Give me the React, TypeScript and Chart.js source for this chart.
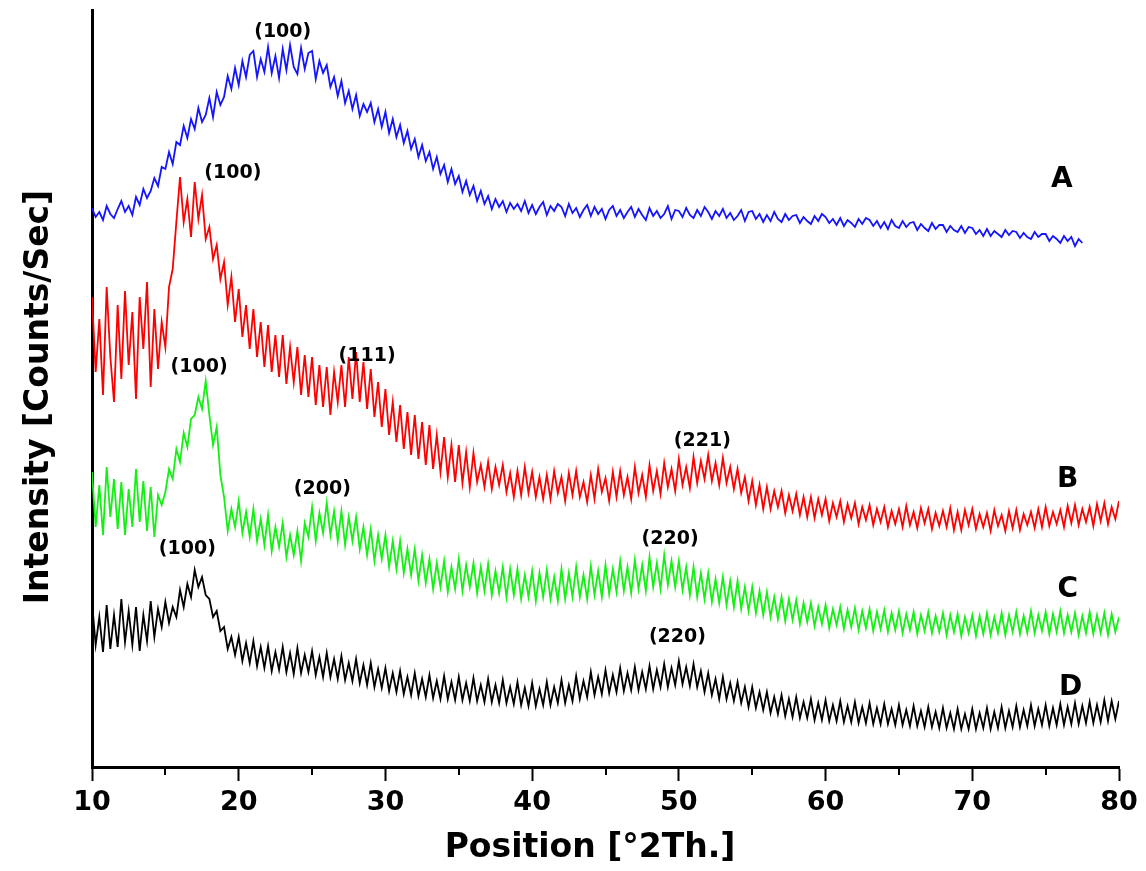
import React, { useEffect, useRef } from 'react';
import { Chart, registerables } from 'chart.js';

Chart.register(...registerables);

// XRD scan: 2θ from 10° in steps of 0.25°
const SCAN_START = 10;
const SCAN_STEP = 0.25;

// Sample A (blue), 10° .. 77.5°
const sampleA = [
  559, 550, 555, 547, 561, 553, 549, 558, 566, 555, 561, 552, 570, 562, 578, 569, 576, 589, 581, 600,
  598, 615, 603, 625, 622, 641, 629, 648, 638, 659, 645, 652, 669, 650, 675, 662, 670, 691, 678, 699,
  682, 706, 690, 712, 716, 690, 708, 695, 720, 694, 711, 689, 718, 697, 722, 700, 693, 719, 698, 714,
  716, 688, 706, 694, 702, 680, 690, 671, 686, 664, 676, 658, 672, 651, 663, 655, 664, 645, 658, 640,
  655, 634, 648, 630, 642, 624, 636, 618, 628, 610, 622, 606, 615, 598, 610, 593, 602, 585, 598, 583,
  591, 575, 586, 572, 581, 566, 576, 563, 571, 558, 568, 560, 566, 555, 564, 558, 563, 556, 566, 554,
  562, 553, 560, 565, 552, 561, 556, 563, 560, 551, 563, 554, 559, 550, 557, 562, 551, 560, 553, 558,
  548, 557, 561, 551, 557, 549, 555, 560, 550, 558, 552, 547, 559, 551, 556, 549, 553, 561, 548, 557,
  556, 550, 559, 552, 549, 557, 551, 560, 555, 548, 556, 551, 558, 549, 554, 547, 551, 557, 546, 555,
  556, 548, 553, 545, 552, 546, 555, 548, 545, 553, 547, 551, 552, 544, 550, 546, 543, 551, 546, 553,
  550, 544, 548, 542, 549, 541, 547, 544, 540, 548, 543, 549, 547, 541, 546, 539, 545, 538, 547, 541,
  539, 546, 540, 544, 545, 537, 543, 539, 536, 544, 538, 542, 542, 535, 541, 537, 535, 541, 534, 540,
  539, 533, 537, 531, 538, 531, 536, 533, 530, 537, 532, 536, 535, 529, 534, 530, 528, 535, 530, 533,
  533, 526, 531, 528, 524, 531, 526, 530, 521, 528, 524,
];

// Sample B (red), 10° .. 80°
const sampleB = [
  470, 395, 448, 372, 480, 410, 365, 462, 388, 476, 402, 455, 368, 470, 418, 485, 380, 458, 398, 445,
  420, 480, 498, 545, 590, 545, 568, 530, 585, 548, 572, 528, 540, 508, 522, 488, 505, 462, 490, 445,
  478, 430, 462, 418, 458, 410, 445, 400, 442, 395, 432, 390, 432, 383, 420, 385, 420, 372, 412, 370,
  410, 362, 402, 360, 400, 352, 395, 365, 402, 360, 410, 368, 415, 365, 405, 358, 398, 350, 385, 340,
  378, 332, 365, 325, 362, 318, 355, 312, 352, 308, 345, 302, 342, 298, 332, 295, 330, 290, 322, 285,
  322, 284, 315, 280, 314, 285, 302, 280, 305, 278, 300, 282, 302, 275, 294, 270, 296, 272, 300, 274,
  295, 270, 290, 268, 292, 268, 296, 274, 290, 266, 294, 272, 296, 270, 285, 265, 292, 268, 298, 275,
  289, 266, 295, 270, 296, 272, 290, 268, 300, 274, 292, 270, 302, 276, 296, 273, 304, 280, 298, 276,
  308, 282, 300, 279, 310, 284, 306, 288, 312, 286, 304, 282, 309, 284, 300, 278, 298, 274, 290, 266,
  286, 262, 282, 258, 280, 258, 276, 260, 276, 254, 272, 256, 273, 252, 270, 250, 270, 249, 268, 252,
  268, 246, 264, 250, 266, 245, 263, 249, 264, 243, 260, 247, 262, 242, 258, 245, 260, 240, 256, 243,
  258, 240, 261, 242, 255, 239, 259, 244, 258, 238, 254, 241, 256, 240, 259, 237, 255, 237, 257, 242,
  258, 238, 253, 240, 254, 236, 257, 241, 252, 236, 256, 239, 257, 237, 253, 242, 255, 239, 258, 240,
  260, 241, 255, 243, 257, 240, 261, 244, 262, 242, 258, 245, 260, 241, 263, 246, 264, 243, 260, 248,
  266,
];

// Sample C (green), 10° .. 80°
const sampleC = [
  295, 240, 282, 232, 300, 250, 288, 238, 285, 232, 278, 240, 298, 245, 286, 236, 280, 230, 272, 262,
  275, 298, 288, 318, 305, 334, 320, 348, 352, 370, 358, 386, 352, 322, 340, 292, 270, 236, 258, 240,
  266, 234, 255, 230, 258, 226, 248, 222, 252, 216, 240, 220, 244, 210, 232, 212, 236, 206, 244, 230,
  260, 226, 254, 234, 264, 232, 256, 226, 256, 222, 250, 226, 250, 218, 240, 212, 238, 206, 232, 208,
  232, 200, 226, 198, 226, 194, 218, 192, 218, 186, 212, 184, 208, 178, 204, 180, 206, 175, 200, 178,
  208, 176, 202, 180, 204, 174, 200, 176, 203, 172, 196, 174, 200, 170, 198, 172, 198, 168, 192, 170,
  196, 166, 194, 170, 197, 168, 190, 166, 198, 168, 194, 170, 200, 170, 192, 168, 201, 172, 196, 170,
  202, 173, 198, 175, 206, 176, 200, 174, 207, 178, 202, 176, 210, 180, 204, 178, 212, 182, 206, 180,
  206, 177, 200, 172, 200, 170, 194, 168, 194, 165, 188, 164, 190, 162, 186, 160, 186, 158, 180, 156,
  180, 154, 176, 152, 175, 150, 170, 148, 170, 146, 168, 147, 167, 143, 164, 145, 164, 141, 160, 143,
  162, 139, 158, 142, 160, 138, 157, 140, 159, 137, 156, 139, 158, 136, 155, 138, 157, 135, 154, 137,
  156, 134, 153, 137, 155, 133, 152, 136, 155, 134, 151, 135, 154, 132, 152, 135, 153, 131, 150, 134,
  152, 131, 151, 133, 154, 132, 150, 134, 154, 132, 152, 135, 155, 133, 151, 134, 156, 134, 152, 136,
  155, 133, 153, 135, 156, 134, 152, 135, 154, 132, 151, 134, 155, 133, 152, 134, 154, 132, 153, 135,
  150,
];

// Sample D (black), 10° .. 80°
const sampleD = [
  165, 122, 150, 115, 162, 118, 152, 120, 168, 125, 156, 122, 160, 116, 152, 126, 166, 130, 158, 140,
  165, 144, 160, 150, 177, 160, 183, 170, 197, 180, 190, 172, 168, 150, 156, 136, 140, 118, 130, 112,
  130, 106, 124, 104, 126, 101, 120, 99, 121, 96, 115, 97, 120, 95, 114, 93, 119, 94, 112, 95,
  116, 92, 110, 90, 114, 90, 108, 88, 111, 87, 104, 86, 108, 84, 102, 82, 104, 80, 98, 79,
  99, 76, 94, 75, 96, 73, 90, 72, 94, 71, 88, 70, 92, 69, 86, 68, 91, 68, 85, 67,
  90, 67, 84, 66, 89, 66, 82, 65, 88, 65, 82, 64, 87, 64, 80, 63, 85, 62, 79, 61,
  84, 61, 78, 62, 85, 62, 80, 64, 87, 64, 82, 66, 91, 68, 86, 70, 95, 72, 90, 73,
  97, 74, 92, 75, 99, 76, 94, 77, 100, 77, 95, 78, 101, 78, 97, 80, 103, 80, 99, 82,
  106, 83, 100, 81, 103, 80, 96, 75, 94, 72, 88, 68, 90, 68, 84, 66, 85, 64, 80, 60,
  80, 59, 75, 57, 75, 54, 70, 53, 72, 51, 68, 50, 70, 49, 65, 49, 68, 47, 64, 47,
  67, 46, 62, 46, 66, 45, 61, 45, 65, 44, 60, 44, 64, 43, 59, 43, 63, 43, 58, 42,
  62, 42, 57, 41, 61, 41, 56, 40, 60, 40, 55, 39, 59, 39, 54, 38, 58, 38, 53, 38,
  58, 38, 54, 39, 59, 38, 55, 39, 60, 39, 56, 40, 61, 40, 57, 41, 62, 41, 58, 42,
  62, 41, 59, 42, 63, 42, 60, 43, 64, 43, 61, 44, 65, 44, 62, 45, 67, 46, 66, 48,
  66,
];

const sampleNames = ['A', 'B', 'C', 'D'];
const sampleNamePos2Theta = [76.1, 76.5, 76.5, 76.7];
const sampleNameIntensity = [587, 287, 177, 79];

const peakText = ['(100)', '(100)', '(111)', '(221)', '(100)', '(200)', '(220)', '(100)', '(220)'];
const peakPos2Theta = [23.0, 19.6, 28.75, 51.6, 17.3, 25.7, 49.4, 16.5, 49.9];
const peakIntensity = [735, 594, 411, 326, 400, 278, 228, 218, 130];

const xMajorTicks = [10, 20, 30, 40, 50, 60, 70, 80];
const xMinorTicks = [15, 25, 35, 45, 55, 65, 75];

const FONT = '"DejaVu Sans", "Liberation Sans", sans-serif';

const toPoints = (vals: number[]) =>
  vals.map((v, i) => ({ x: SCAN_START + i * SCAN_STEP, y: v }));

const textPlugin = {
  id: 'xrdText',
  afterDraw(chart: any) {
    const { ctx, chartArea } = chart;
    const xs = chart.scales.x;
    const ys = chart.scales.y;
    ctx.save();
    // minor ticks
    ctx.strokeStyle = '#000';
    ctx.lineWidth = 2;
    xMinorTicks.forEach((v) => {
      const px = Math.round(xs.getPixelForValue(v));
      ctx.beginPath();
      ctx.moveTo(px, chartArea.bottom);
      ctx.lineTo(px, chartArea.bottom + 8);
      ctx.stroke();
    });
    ctx.fillStyle = '#000';
    ctx.textAlign = 'center';
    ctx.textBaseline = 'middle';
    ctx.font = `bold 19px ${FONT}`;
    peakText.forEach((t, i) => {
      ctx.fillText(t, xs.getPixelForValue(peakPos2Theta[i]), ys.getPixelForValue(peakIntensity[i]));
    });
    ctx.font = `bold 28px ${FONT}`;
    sampleNames.forEach((t, i) => {
      ctx.fillText(t, xs.getPixelForValue(sampleNamePos2Theta[i]), ys.getPixelForValue(sampleNameIntensity[i]));
    });
    // axis titles
    ctx.font = `bold 33px ${FONT}`;
    ctx.textBaseline = 'alphabetic';
    ctx.fillText('Position [°2Th.]', 590, 857);
    ctx.translate(48, 397);
    ctx.rotate(-Math.PI / 2);
    ctx.fillText('Intensity [Counts/Sec]', 0, 0);
    ctx.restore();
  },
};

export default function App() {
  const ref = useRef<HTMLCanvasElement | null>(null);

  useEffect(() => {
    if (!ref.current) return;
    const mk = (label: string, vals: number[], color: string) => ({
      label,
      data: toPoints(vals),
      borderColor: color,
      backgroundColor: color,
      borderWidth: 1.8,
      pointRadius: 0,
      tension: 0,
      fill: false,
    });
    const chart = new Chart(ref.current, {
      type: 'line',
      data: {
        datasets: [
          mk('A', sampleA, '#1414ff'),
          mk('B', sampleB, '#ff0000'),
          mk('C', sampleC, '#14f014'),
          mk('D', sampleD, '#000000'),
        ],
      },
      options: {
        responsive: false,
        animation: false,
        layout: { padding: { left: 0, top: 10, right: 27, bottom: 0 } },
        plugins: {
          legend: { display: false },
          tooltip: { enabled: false },
          title: { display: false },
        },
        scales: {
          x: {
            type: 'linear',
            min: 10,
            max: 80,
            afterFit: (s: any) => {
              s.height = 104;
            },
            afterBuildTicks: (s: any) => {
              s.ticks = xMajorTicks.map((v) => ({ value: v }));
            },
            ticks: {
              color: '#000',
              padding: 6,
              maxRotation: 0,
              autoSkip: false,
              font: { family: FONT, size: 27, weight: 'bold' },
              callback: (v: any) => String(v),
            },
            grid: {
              display: true,
              drawOnChartArea: false,
              drawTicks: true,
              tickLength: 14,
              tickWidth: 2,
              tickColor: '#000',
            },
            border: { display: true, color: '#000', width: 3 },
          },
          y: {
            type: 'linear',
            min: 0,
            max: 757,
            afterFit: (s: any) => {
              s.width = 92;
            },
            ticks: { display: false },
            grid: { display: false, drawTicks: false },
            border: { display: true, color: '#000', width: 3 },
          },
        },
      },
      plugins: [textPlugin],
    });
    return () => chart.destroy();
  }, []);

  return (
    <div style={{ position: 'absolute', left: 0, top: 0, width: 1146, height: 871, background: '#fff' }}>
      <canvas ref={ref} width={1146} height={871} />
    </div>
  );
}
